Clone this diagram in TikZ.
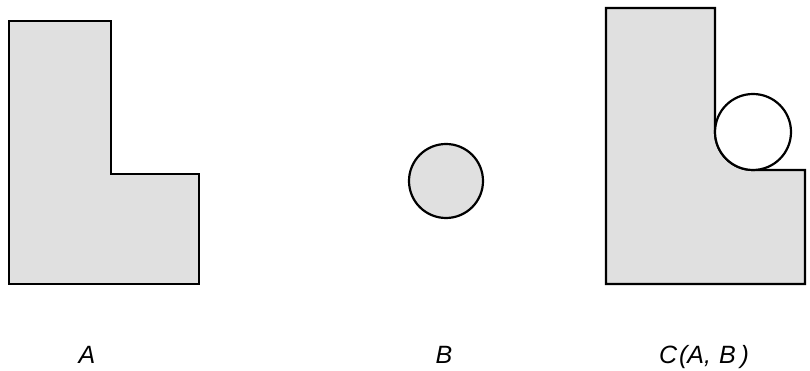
\documentclass[tikz,border=0pt]{standalone}
\usepackage{fontspec}
\setmainfont{Liberation Sans}
\begin{document}
\begin{tikzpicture}[x=1pt,y=1pt,
  region/.style={draw=black,line width=2.2pt,fill=black!12,line join=miter},
  hole/.style={draw=black,line width=2.2pt,fill=white},
  lbl/.style={anchor=base,inner sep=0pt,font=\fontsize{25}{30}\selectfont\itshape}]
\useasboundingbox (0,0) rectangle (810,371);
% A
\draw[region] (9,87) -- (9,350) -- (111,350) -- (111,197) -- (199,197) -- (199,87) -- cycle;
% B
\draw[region] (446,190) circle[radius=37];
% C
\draw[region] (606,87) -- (606,363) -- (715,363) -- (715,239)
  arc[start angle=180,end angle=270,radius=38] -- (805,201) -- (805,87) -- cycle;
\draw[hole] (753,239) circle[radius=38];
% labels
\node[lbl] (la) at (87,7) {A};
\node[lbl] (lb) at (444,7) {B};
\node[lbl] (lc) at (704,7) {C\hspace{2pt}(A,\hspace{8pt}B\hspace{5pt})};
\end{tikzpicture}
\end{document}
